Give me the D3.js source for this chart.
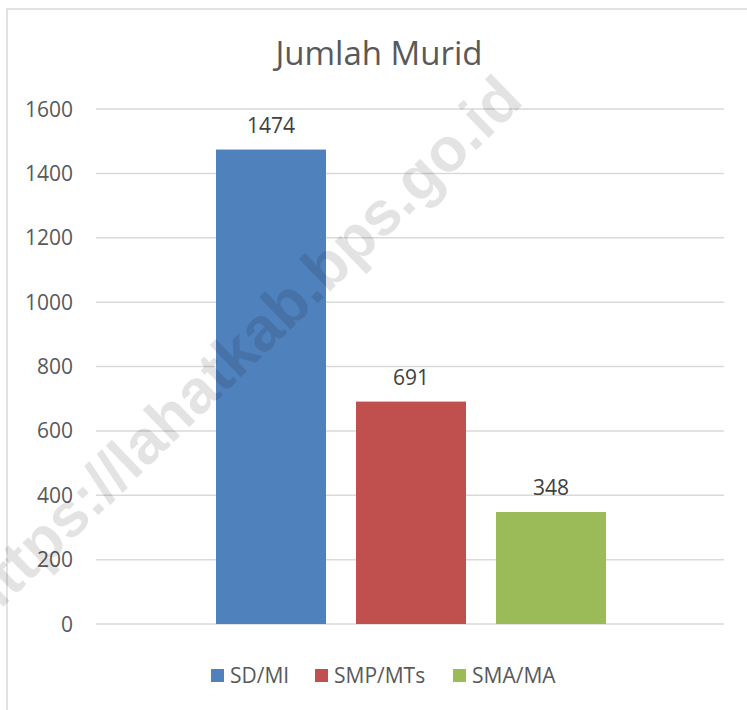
<!DOCTYPE html>
<html>
<head>
<meta charset="utf-8">
<script src="https://cdn.jsdelivr.net/npm/d3@7"></script>
<style>
  body { margin: 0; background: #fff; }
  svg { display: block; font-family: "Open Sans", sans-serif; }
  .grid line { stroke: #d9d9d9; stroke-width: 1.5; }
  .tick-label { fill: #595959; font-size: 21px; }
  .value-label { fill: #404040; font-size: 21px; }
  .legend text { fill: #595959; font-size: 21px; }
</style>
</head>
<body>
<div id="chart"></div>
<script>
  // data
  var series = ["SD/MI", "SMP/MTs", "SMA/MA"];
  var values = [1474, 691, 348];
  var colors = ["#4f81bd", "#c0504d", "#9bbb59"];
  var yTicks = [0, 200, 400, 600, 800, 1000, 1200, 1400, 1600];
  var title = "Jumlah Murid";
  var watermark = "https://lahatkab.bps.go.id";

  var width = 747,
      height = 710;

  var plot = { left: 96, right: 724, top: 109, bottom: 624 };

  var svg = d3.select("#chart")
    .append("svg")
      .attr("width", width)
      .attr("height", height);

  // chart frame (runs off the right / bottom edge like the picture)
  svg.append("rect")
    .attr("x", 7).attr("y", 9)
    .attr("width", width + 20).attr("height", height + 20)
    .attr("fill", "#fff")
    .attr("stroke", "#d9d9d9")
    .attr("stroke-width", 1.5);

  var y = d3.scaleLinear()
    .domain([0, 1600])
    .range([plot.bottom, plot.top]);

  // one category, three series side by side
  var mid = (plot.left + plot.right) / 2 + 1;
  var x = d3.scaleBand()
    .domain(series)
    .range([mid - 195, mid + 195])
    .paddingInner(30 / 140)
    .paddingOuter(0);

  svg.append("g")
    .attr("class", "grid")
    .selectAll("line")
    .data(yTicks)
  .enter().append("line")
    .attr("x1", plot.left)
    .attr("x2", plot.right)
    .attr("y1", function(d) { return y(d); })
    .attr("y2", function(d) { return y(d); });

  svg.selectAll(".tick-label")
    .data(yTicks)
  .enter().append("text")
    .attr("class", "tick-label")
    .attr("x", 73)
    .attr("y", function(d) { return y(d); })
    .attr("dy", "0.36em")
    .attr("text-anchor", "end")
    .text(function(d) { return d; });

  svg.selectAll(".bar")
    .data(values)
  .enter().append("rect")
    .attr("class", "bar")
    .attr("x", function(d, i) { return x(series[i]); })
    .attr("y", function(d) { return y(d); })
    .attr("width", x.bandwidth())
    .attr("height", function(d) { return y(0) - y(d); })
    .attr("fill", function(d, i) { return colors[i]; });

  svg.selectAll(".value-label")
    .data(values)
  .enter().append("text")
    .attr("class", "value-label")
    .attr("x", function(d, i) { return x(series[i]) + x.bandwidth() / 2; })
    .attr("y", function(d) { return y(d) - 17; })
    .attr("text-anchor", "middle")
    .text(function(d) { return d; });

  svg.append("text")
    .attr("x", 379)
    .attr("y", 65)
    .attr("text-anchor", "middle")
    .attr("fill", "#595959")
    .style("font-size", "33px")
    .text(title);

  // legend
  var legendX = [211, 315, 453];
  var legend = svg.append("g").attr("class", "legend")
    .selectAll("g")
    .data(series)
  .enter().append("g")
    .attr("transform", function(d, i) { return "translate(" + legendX[i] + ",669)"; });

  legend.append("rect")
    .attr("width", 13).attr("height", 13)
    .attr("fill", function(d, i) { return colors[i]; });

  legend.append("text")
    .attr("x", 19)
    .attr("y", 14)
    .text(function(d) { return d; });

  // watermark
  svg.append("text")
    .attr("transform", "translate(240,348) rotate(-44)")
    .attr("text-anchor", "middle")
    .attr("dy", "0.35em")
    .attr("fill", "rgba(0,0,0,0.11)")
    .style("font-family", "'Liberation Sans', Arial, sans-serif")
    .style("font-weight", "bold")
    .style("font-size", "62px")
    .text(watermark);
</script>
</body>
</html>
